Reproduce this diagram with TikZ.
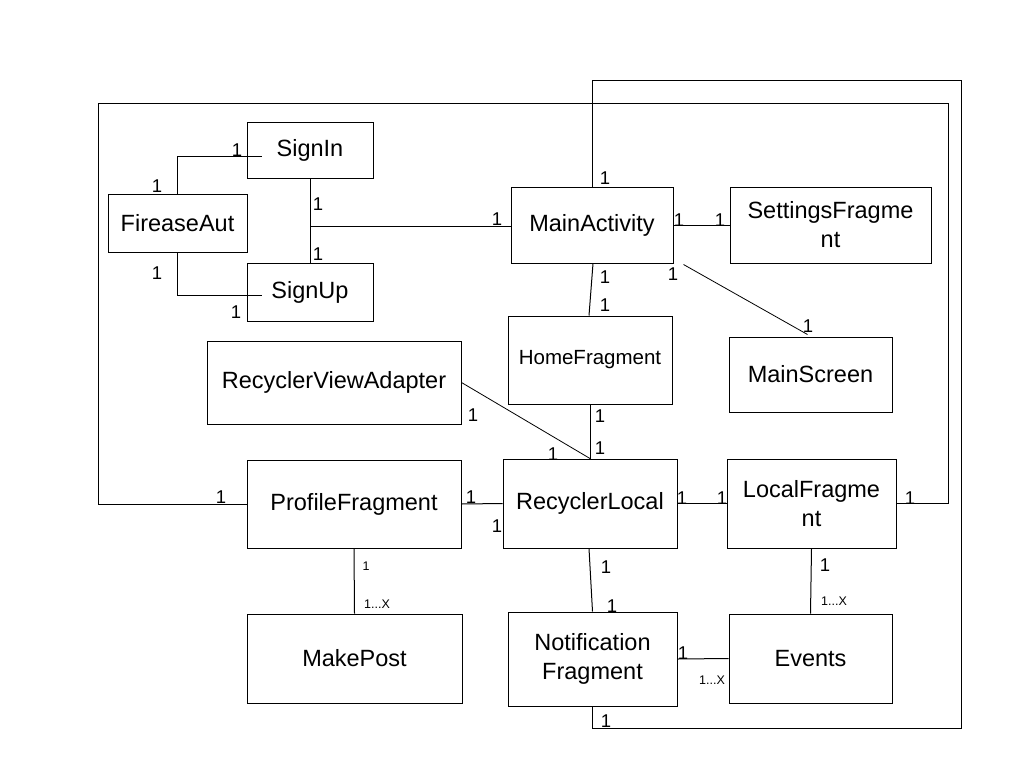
\documentclass[tikz,border=0pt]{standalone}
\usepackage{fontspec}
\setmainfont{Liberation Sans}
\usetikzlibrary{calc}
\begin{document}
\begin{tikzpicture}[x=1pt,y=-1pt,
  box/.style={draw, line width=1pt, inner sep=0pt, align=center, font=\fontsize{23.5}{29}\selectfont},
  conn/.style={line width=1pt},
  thin conn/.style={line width=0.8pt},
  mult/.style={inner sep=0pt, font=\fontsize{18.5}{18.5}\selectfont},
  smult/.style={inner sep=0pt, font=\fontsize{12.5}{12.5}\selectfont}]
\useasboundingbox (0,0) rectangle (1024,768);
% boxes
\node[box, minimum width=126, minimum height=56] (signin) at (310,150) {SignIn};
\node[box, minimum width=139, minimum height=58] (firease) at (177.5,223) {FireaseAut};
\node[box, minimum width=126, minimum height=58] (signup) at (310,292) {SignUp};
\node[box, minimum width=162, minimum height=76] (main) at (592,225) {MainActivity};
\node[box, minimum width=201, minimum height=76] (settings) at (830.5,225) {SettingsFragme\\nt};
\node[box, minimum width=164, minimum height=88, font=\fontsize{20.5}{24}\selectfont] (home) at (590,360) {HomeFragment};
\node[box, minimum width=163, minimum height=75] (mainscreen) at (810.5,374.5) {MainScreen};
\node[box, minimum width=254, minimum height=83] (rva) at (334,382.5) {RecyclerViewAdapter};
\node[box, minimum width=214, minimum height=88] (profile) at (354,504) {ProfileFragment};
\node[box, minimum width=174, minimum height=89] (reclocal) at (590,503.5) {RecyclerLocal};
\node[box, minimum width=169, minimum height=89] (localfrag) at (811.5,503.5) {LocalFragme\\nt};
\node[box, minimum width=169, minimum height=94] (notif) at (592.5,659) {Notification\\Fragment};
\node[box, minimum width=163, minimum height=89] (events) at (810.5,658.5) {Events};
\node[box, minimum width=215, minimum height=89] (makepost) at (354.5,658.5) {MakePost};
% helper coordinates
\coordinate (j1) at (310,226);
\coordinate (tr) at (961,80);
\coordinate (tl) at (98,103);
\coordinate (tr2) at (948,103);
% connectors
\draw[conn] (firease.north) |- ($(signin.west)+(15,6)$);
\draw[conn] (firease.south) |- ($(signup.west)+(15,3)$);
\draw[conn] (signin.south) -- (signup.north);
\draw[conn] (j1) -- (main.west |- j1);
\draw[conn] (main.east) -- (settings.west);
\draw[conn] (main.north) |- (tr) -- (tr |- 0,728) -| (notif.south);
\draw[conn] ([xshift=1]main.south) -- ([xshift=-1]home.north);
\draw[thin conn] ($(main.south east)+(10,1)$) -- ($(mainscreen.north)+(-3,-2)$);
\draw[conn] (home.south) -- (reclocal.north);
\draw[thin conn] (rva.east) -- (reclocal.north);
\draw[conn] (profile.west) -| (tl) -- (tr2) |- (localfrag.east);
\draw[conn] (profile.east) -- (reclocal.west);
\draw[conn] (reclocal.east) -- (localfrag.west);
\draw[conn] ([xshift=-1]reclocal.south) -- (notif.north);
\draw[conn] (localfrag.south) -- (events.north);
\draw[conn] (notif.east) -- (events.west);
\draw[conn] (profile.south) -- (makepost.north);
% multiplicities
\node[mult] (m1) at (237,150) {1};
\node[mult] (m2) at (157,186) {1};
\node[mult] (m3) at (318,204) {1};
\node[mult] (m4) at (318,254) {1};
\node[mult] (m5) at (497,219) {1};
\node[mult] (m6) at (157,273) {1};
\node[mult] (m7) at (236,312) {1};
\node[mult] (m8) at (605,178) {1};
\node[mult] (m9) at (679,220) {1};
\node[mult] (m10) at (720,220) {1};
\node[mult] (m11) at (605,277) {1};
\node[mult] (m12) at (605,305) {1};
\node[mult] (m13) at (673,274) {1};
\node[mult] (m14) at (808,326) {1};
\node[mult] (m15) at (600,416) {1};
\node[mult] (m16) at (600,448) {1};
\node[mult] (m17) at (473,415) {1};
\node[mult] (m18) at (553,454) {1};
\node[mult] (m19) at (221,497) {1};
\node[mult] (m20) at (471,497) {1};
\node[mult] (m21) at (497,526) {1};
\node[mult] (m22) at (682,498) {1};
\node[mult] (m23) at (722,498) {1};
\node[mult] (m24) at (910,498) {1};
\node[mult] (m25) at (606,567) {1};
\node[mult] (m26) at (612,606) {1};
\node[mult] (m27) at (825,565) {1};
\node[mult] (m28) at (683,653) {1};
\node[mult] (m29) at (606,721) {1};
\node[smult] (s1) at (366,566) {1};
\node[smult] (s2) at (377,604) {1...X};
\node[smult] (s3) at (834,601) {1...X};
\node[smult] (s4) at (712,680) {1...X};
\end{tikzpicture}
\end{document}
